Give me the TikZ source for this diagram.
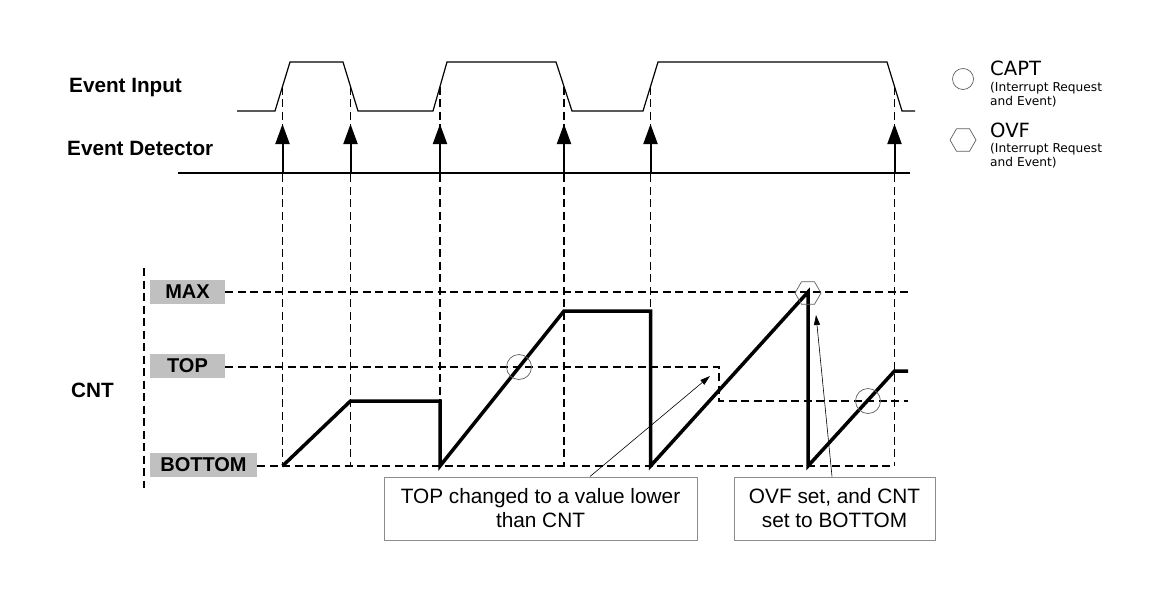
\documentclass[tikz,border=0pt]{standalone}
\usepackage{fontspec}
\setmainfont{Liberation Sans}
\newfontfamily\verd{DejaVu Sans}
\usetikzlibrary{arrows.meta,shapes.geometric}
\definecolor{lvlgray}{HTML}{C0C0C0}
\definecolor{boxgray}{HTML}{8C8C8C}
\definecolor{markgray}{HTML}{606060}
\tikzset{
  sig/.style={line width=1.2pt},
  gridline/.style={line width=1.1pt, dash pattern=on 8pt off 4.5pt},
  cntline/.style={line width=3.5pt, line join=miter},
  evarrow/.style={line width=2pt, -{Triangle[width=14pt,length=20pt]}},
  lvl/.style={fill=lvlgray, font=\bfseries\fontsize{20}{20}\selectfont, minimum height=24pt, inner sep=0pt},
  lbl/.style={font=\bfseries\fontsize{20.7}{21}\selectfont, inner sep=0pt, anchor=base west},
  callout/.style={draw=boxgray, line width=1pt, fill=white, minimum height=63pt, align=center, inner sep=0pt, font=\fontsize{20.8}{24}\selectfont},
  pointer/.style={line width=0.6pt, -{Triangle[width=6pt,length=10pt]}},
  captmark/.style={circle, draw=markgray, line width=0.7pt, minimum size=25pt, inner sep=0pt},
  ovfmark/.style={regular polygon, regular polygon sides=6, draw=markgray, line width=0.7pt, minimum size=26pt, inner sep=0pt},
  legtitle/.style={font=\verd\fontsize{19.6}{20}\selectfont, inner sep=0pt, anchor=base west},
  legsub/.style={font=\verd\fontsize{12.2}{14}\selectfont, inner sep=0pt, anchor=base west},
}
\begin{document}
\begin{tikzpicture}[x=1pt,y=-1pt]
\useasboundingbox[fill=white] (0,0) rectangle (1150,600);

% labels
\node[lbl] (lin) at (69,92) {Event Input};
\node[lbl] (ldet) at (67,155) {Event Detector};
\node[lbl] (lcnt) at (71,397) {CNT};

% level boxes
\node[lvl, minimum width=75pt] (max) at (187.5,292) {MAX};
\node[lvl, minimum width=75pt] (top) at (187.5,366) {TOP};
\node[lvl, minimum width=107pt] (bot) at (203.5,465) {BOTTOM};

% edge reference coordinates
\coordinate (r1) at (282.5,86.5);
\coordinate (r2) at (350.5,86.5);
\coordinate (r3) at (440,86.5);
\coordinate (r4) at (564,86.5);
\coordinate (r5) at (650.5,86.5);
\coordinate (r6) at (894.5,86.5);
\coordinate (bl) at (0,466);
\coordinate (det) at (0,173);
\coordinate (tip) at (0,124);

% dashed verticals
\foreach \r in {r1,r2,r3,r4,r5,r6} \draw[gridline] (\r) -- (\r|-bl);

% CNT axis
\draw[gridline] (144,268) -- (144,488);

% level lines
\draw[gridline] (max.east) -- (912,292);
\draw[gridline] (top.east |- 0,367) -- (719,367) -- (719,401) -- (908,401);
\draw[gridline] (bot.east |- bl) -- (r6|-bl);

% event input
\draw[sig] (237,111) -- (275,111) -- (290,62) -- (343,62) -- (358,111) -- (433,111) -- (447,62) -- (556,62) -- (572,111) -- (643,111) -- (658,62) -- (887,62) -- (902,111) -- (915,111);

% event detector
\draw[sig] (178,173) -- (910,173);
\foreach \r in {r1,r2,r3,r4,r5,r6} \draw[evarrow] (\r|-det) -- (\r|-tip);

% counter
\coordinate (c0) at (282.5,466);
\coordinate (c1) at (350.5,401);
\coordinate (c2) at (440,401);
\coordinate (c3) at (440,466);
\coordinate (c4) at (564,311);
\coordinate (c5) at (650.5,311);
\coordinate (c6) at (650.5,466);
\coordinate (c7) at (808,292);
\coordinate (c8) at (808,466);
\coordinate (c9) at (894.5,371);
\coordinate (c10) at (908,371);
\draw[cntline] (c0) -- (c1) -- (c2) -- (c3) -- (c4) -- (c5) -- (c6) -- (c7) -- (c8) -- (c9) -- (c10);

% markers
\node[captmark] (cap1) at (519,367) {};
\node[captmark] (cap2) at (868,401) {};
\node[ovfmark] (ovf1) at (808,293) {};

% callouts
\node[callout, minimum width=313pt] (box1) at (540.5,508.5) {TOP changed to a value lower\\than CNT};
\node[callout, minimum width=201pt] (box2) at (834.5,508.5) {OVF set, and CNT\\set to BOTTOM};
\coordinate (p1) at (710,376);
\coordinate (p2) at (816,315);
\draw[pointer] ([xshift=49.5pt]box1.north) -- (p1);
\draw[pointer] ([xshift=-2.5pt]box2.north) -- (p2);

% legend
\node[captmark, minimum size=21pt] (legc) at (963,79) {};
\node[legtitle] (lt1) at (990,75) {CAPT};
\node[legsub] (ls1) at (990,91) {(Interrupt Request};
\node[legsub] (ls2) at (990,105) {and Event)};
\node[ovfmark] (legh) at (963,140) {};
\node[legtitle] (lt2) at (990,137) {OVF};
\node[legsub] (ls3) at (990,152) {(Interrupt Request};
\node[legsub] (ls4) at (990,166) {and Event)};
\end{tikzpicture}
\end{document}
